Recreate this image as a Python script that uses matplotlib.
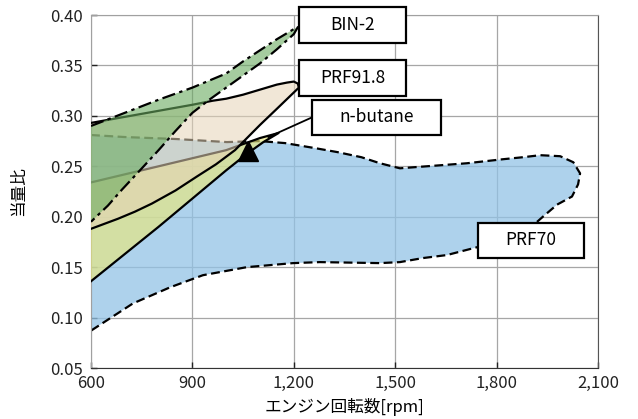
import numpy as np
import matplotlib.pyplot as plt
from matplotlib.ticker import FuncFormatter, MultipleLocator
from matplotlib.patches import Rectangle

plt.rcParams['font.family'] = ['Noto Sans CJK JP', 'DejaVu Sans']

# PRF70 outline (top left -> around the tip -> bottom left)
prf70_x = [600, 700, 854, 1002, 1100, 1174, 1263, 1330, 1400, 1455, 1514, 1633, 1712, 1819,
           1878, 1929, 1988, 2027, 2047, 2041, 2023, 1979, 1937, 1920, 1850, 1800, 1745,
           1653, 1582, 1514, 1455, 1277, 1198, 1061, 931, 834, 724, 600]
prf70_y = [0.281, 0.279, 0.277, 0.274, 0.275, 0.273, 0.268, 0.264, 0.259, 0.253, 0.248, 0.251, 0.253, 0.257,
           0.259, 0.261, 0.260, 0.254, 0.243, 0.232, 0.220, 0.212, 0.200, 0.195, 0.184, 0.177, 0.170,
           0.162, 0.159, 0.155, 0.154, 0.155, 0.154, 0.150, 0.142, 0.130, 0.114, 0.087]

# n-butane
nbut_x = [600, 700, 800, 900, 1000, 1060, 1110, 1155, 1100, 1050, 1000, 900, 800, 700, 600]
nbut_y = [0.136, 0.163, 0.190, 0.218, 0.246, 0.262, 0.274, 0.283, 0.278, 0.272, 0.266, 0.258, 0.250, 0.242, 0.234]

# PRF91.8
prf918_x = [600, 700, 800, 900, 960, 1000, 1050, 1100, 1150, 1180, 1200, 1212, 1215,
            1150, 1100, 1026, 970, 914, 850, 780, 730, 680, 600]
prf918_y = [0.293, 0.299, 0.305, 0.311, 0.315, 0.317, 0.321, 0.326, 0.331, 0.333, 0.334, 0.332, 0.328,
            0.307, 0.291, 0.266, 0.252, 0.240, 0.226, 0.213, 0.205, 0.198, 0.188]

# BIN-2
bin2_x = [600, 700, 800, 900, 950, 1000, 1050, 1100, 1150, 1200, 1212,
          1200, 1150, 1100, 1050, 1000, 950, 900, 850, 800, 745, 692, 650, 600]
bin2_y = [0.290, 0.303, 0.316, 0.328, 0.335, 0.342, 0.354, 0.365, 0.376, 0.386, 0.388,
          0.381, 0.366, 0.352, 0.340, 0.328, 0.316, 0.303, 0.285, 0.266, 0.246, 0.227, 0.211, 0.195]

marker_x = [1064]
marker_y = [0.265]

labels = ['BIN-2', 'PRF91.8', 'n-butane', 'PRF70']

fig = plt.figure(figsize=(6.38, 4.19), dpi=100)
ax = fig.add_axes([0.1426, 0.1217, 0.7947, 0.8425])

ax.set_xlim(600, 2100)
ax.set_ylim(0.05, 0.40)
ax.xaxis.set_major_locator(MultipleLocator(300))
ax.yaxis.set_major_locator(MultipleLocator(0.05))
ax.xaxis.set_major_formatter(FuncFormatter(lambda v, p: f'{v:,.0f}'))
ax.yaxis.set_major_formatter(FuncFormatter(lambda v, p: f'{v:.2f}'))
ax.grid(True, color='#a6a6a6', linewidth=0.9)
ax.set_axisbelow(True)
ax.tick_params(direction='in', length=4, width=1, labelsize=12, colors='#222222')
ax.tick_params(axis='x', pad=5)
ax.tick_params(axis='y', pad=6)
for s in ['top', 'left']:
    ax.spines[s].set_color('#a0a0a0')
ax.spines['bottom'].set_color('#333333')
ax.spines['right'].set_color('#555555')

ax.set_xlabel('エンジン回転数[rpm]', fontsize=12, labelpad=4)
ax.set_ylabel('当量比', fontsize=12, labelpad=16)

# filled regions, bottom to top; later ones are translucent so lower outlines show grey
ax.fill(prf70_x, prf70_y, color='#93c3e6', alpha=0.75, lw=0, zorder=2)
ax.plot(prf70_x, prf70_y, color='black', lw=1.6, ls=(0, (4, 2)), zorder=2.1)

ax.fill(nbut_x, nbut_y, color='#e8e77d', alpha=0.65, lw=0, zorder=3)
ax.plot(nbut_x, nbut_y, color='black', lw=1.6, zorder=3.1)

ax.fill(prf918_x, prf918_y, color='#e6d4b7', alpha=0.55, lw=0, zorder=4)
ax.plot(prf918_x, prf918_y, color='black', lw=1.6, zorder=4.1)

ax.fill(bin2_x, bin2_y, color='#6aab60', alpha=0.6, lw=0, zorder=5)
ax.plot(bin2_x, bin2_y, color='black', lw=1.6, ls=(0, (6, 2, 1.5, 2)), zorder=5.1)

ax.plot(marker_x, marker_y, marker='^', ms=15, color='black', ls='none', zorder=6)

# label boxes (data coords: x0, x1, y0, y1)
boxes = [(1215, 1532, 0.372, 0.408), (1215, 1532, 0.320, 0.355),
         (1254, 1636, 0.281, 0.316), (1745, 2059, 0.159, 0.194)]
ax.plot([1125, 1254], [0.279, 0.2985], color='black', lw=1.3, zorder=6)
for (x0, x1, y0, y1), t in zip(boxes, labels):
    ax.add_patch(Rectangle((x0, y0), x1 - x0, y1 - y0, facecolor='white', edgecolor='black',
                           lw=1.6, zorder=7, clip_on=False))
    ax.text((x0 + x1) / 2, (y0 + y1) / 2, t, ha='center', va='center', fontsize=12.5, zorder=8,
            clip_on=False)

fig.savefig('out.png', dpi=100)
